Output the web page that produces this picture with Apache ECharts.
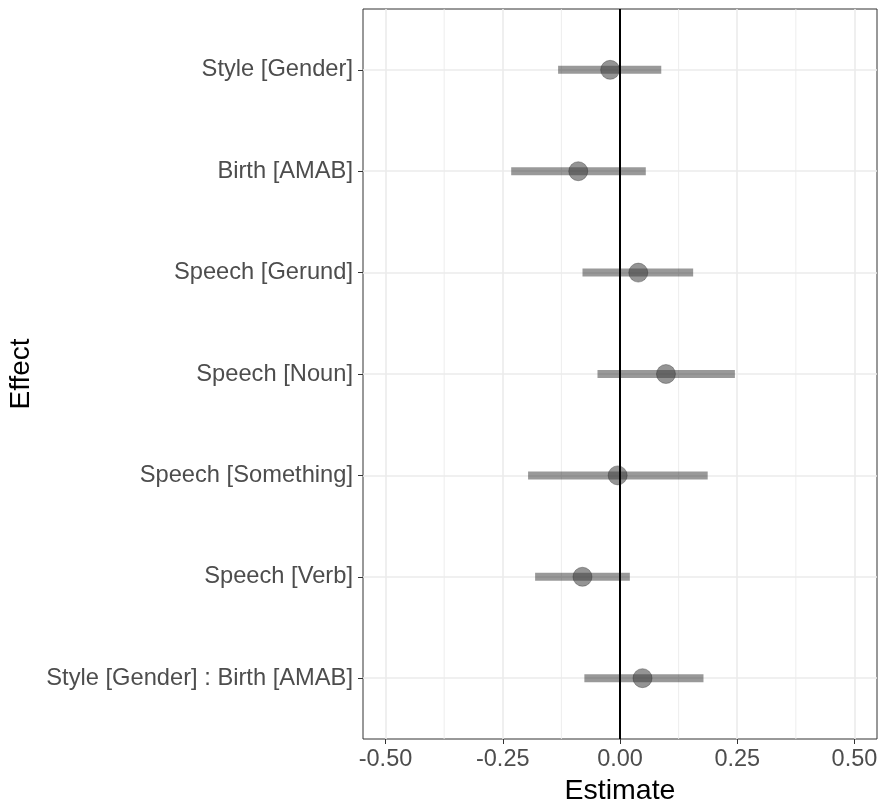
<!DOCTYPE html>
<html><head><meta charset="utf-8">
<script src="https://cdn.jsdelivr.net/npm/echarts@6/dist/echarts.min.js"></script>
<style>html,body{margin:0;padding:0;background:#fff}#c{width:881px;height:800px}</style>
</head><body><div id="c"></div>
<script>
const effects = ["Style [Gender]","Birth [AMAB]","Speech [Gerund]","Speech [Noun]","Speech [Something]","Speech [Verb]","Style [Gender] : Birth [AMAB]"];
const estimates = [-0.021,-0.089,0.039,0.098,-0.005,-0.080,0.048];
const lower = [-0.132,-0.232,-0.080,-0.048,-0.196,-0.181,-0.076];
const upper = [0.088,0.055,0.156,0.245,0.187,0.021,0.178];
const xTicks = [-0.5,-0.25,0,0.25,0.5];
const xMinorTicks = [-0.375,-0.125,0.125,0.375];
const yTicks = [0,1,2,3,4,5,6];

const font = "Liberation Sans, Arial, Helvetica, sans-serif";
const chart = echarts.init(document.getElementById('c'));
chart.setOption({
  animation:false,
  backgroundColor:'#fff',
  grid:{left:363,right:4,top:9,bottom:61,outerBoundsMode:'none',containLabel:false,show:true,borderColor:'#333',borderWidth:1,backgroundColor:'transparent'},
  xAxis:{type:'value',min:-0.548,max:0.548,
    axisLine:{show:false,onZero:false},
    axisTick:{show:true,customValues:xTicks,length:5,lineStyle:{color:'#333',width:1}},
    axisLabel:{customValues:xTicks,formatter:v=>v.toFixed(2),color:'#4d4d4d',fontSize:23.5,fontFamily:font,margin:9},
    splitLine:{show:true,lineStyle:{color:'#ebebeb',width:1.6}},
    name:'Estimate',nameLocation:'middle',nameGap:37,nameTextStyle:{color:'#000',fontSize:28.5,fontFamily:font}
  },
  yAxis:{type:'value',min:-0.6,max:6.6,inverse:true,
    axisLine:{show:false,onZero:false},
    axisTick:{show:true,customValues:yTicks,length:5,lineStyle:{color:'#333',width:1}},
    axisLabel:{customValues:yTicks,formatter:v=>effects[Math.round(v)]||'',color:'#4d4d4d',fontSize:23.7,fontFamily:font,margin:10},
    splitLine:{show:true,lineStyle:{color:'#ebebeb',width:1.6}},
    name:'Effect',nameLocation:'middle',nameGap:327,nameRotate:90,nameTextStyle:{color:'#000',fontSize:28,fontFamily:font}
  },
  series:[
    {type:'custom',z:2,silent:true,
      data:xMinorTicks.map(v=>[v]),
      renderItem:(params,api)=>{
        const p=api.coord([api.value(0),-0.6]);const q=api.coord([api.value(0),6.6]);
        return {type:'line',shape:{x1:p[0],y1:p[1],x2:q[0],y2:q[1]},style:{stroke:'#ebebeb',lineWidth:0.9}};
      }},
    {type:'custom',z:3,
      data:effects.map((e,i)=>[lower[i],upper[i],i]),
      encode:{x:[0,1],y:2},
      renderItem:(params,api)=>{
        const a=api.coord([api.value(0),api.value(2)]);const b=api.coord([api.value(1),api.value(2)]);
        return {type:'rect',shape:{x:a[0],y:a[1]-4,width:b[0]-a[0],height:8},style:{fill:'rgba(0,0,0,0.4)'}};
      }},
    {type:'scatter',z:4,symbolSize:19,
      data:estimates.map((v,i)=>[v,i]),
      itemStyle:{color:'rgba(60,60,60,0.55)',borderColor:'rgba(40,40,40,0.35)',borderWidth:1,opacity:1},
      markLine:{silent:true,symbol:'none',label:{show:false},lineStyle:{color:'#000',width:2,type:'solid'},data:[{xAxis:0}]}
    }
  ]
});
</script></body></html>
